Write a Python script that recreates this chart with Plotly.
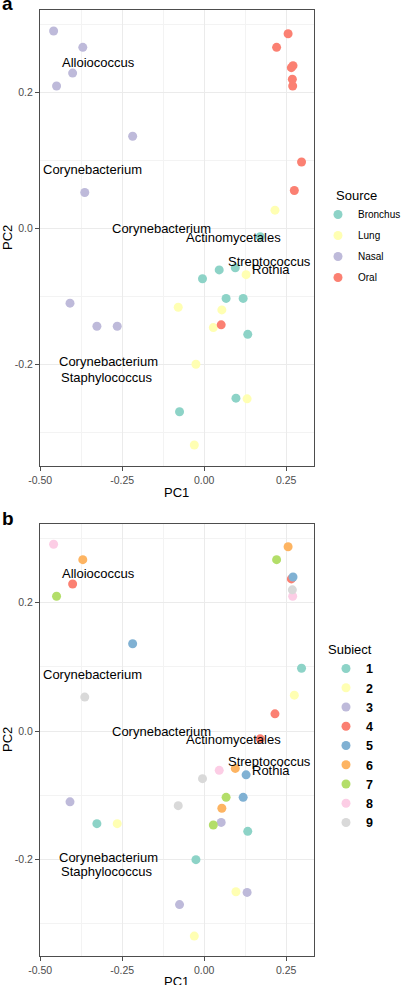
import plotly.graph_objects as go

# ---- data ----
pc1 = [-0.459, -0.370, -0.401, -0.450, -0.218, -0.364, -0.409, -0.327, -0.265,
       0.256, 0.221, 0.271, 0.266, 0.269, 0.270, 0.297, 0.275, 0.052,
       0.171, 0.046, 0.095, -0.005, 0.067, 0.119, 0.133, 0.097, -0.075,
       0.216, 0.128, -0.079, 0.054, 0.028, -0.025, 0.131, -0.030]
pc2 = [0.291, 0.267, 0.229, 0.210, 0.136, 0.053, -0.110, -0.144, -0.144,
       0.287, 0.267, 0.240, 0.237, 0.220, 0.210, 0.098, 0.056, -0.142,
       -0.012, -0.061, -0.058, -0.074, -0.103, -0.103, -0.156, -0.250, -0.270,
       0.027, -0.068, -0.116, -0.120, -0.146, -0.200, -0.251, -0.319]
source = ["Nasal"] * 9 + ["Oral"] * 9 + ["Bronchus"] * 9 + ["Lung"] * 8
subject = [8, 6, 4, 7, 5, 9, 3, 1, 2,
           6, 7, 5, 4, 9, 8, 1, 2, 3,
           4, 8, 6, 9, 7, 5, 1, 2, 3,
           4, 5, 9, 6, 7, 1, 3, 2]

source_levels = ["Bronchus", "Lung", "Nasal", "Oral"]
source_colors = ["#8DD3C7", "#FFFFB3", "#BEBADA", "#FB8072"]
subject_levels = [1, 2, 3, 4, 5, 6, 7, 8, 9]
subject_colors = ["#8DD3C7", "#FFFFB3", "#BEBADA", "#FB8072", "#80B1D3",
                  "#FDB462", "#B3DE69", "#FCCDE5", "#D9D9D9"]

label_text = ["Alloiococcus", "Corynebacterium", "Corynebacterium", "Actinomycetales",
              "Streptococcus", "Rothia", "Corynebacterium", "Staphylococcus"]
label_x = [-0.323, -0.340, -0.130, 0.091, 0.199, 0.205, -0.291, -0.297]
label_y = [0.245, 0.0875, 0.0, -0.0133, -0.048, -0.0605, -0.196, -0.219]

x_ticks = [-0.5, -0.25, 0.0, 0.25]
x_tick_text = ["-0.50", "-0.25", "0.00", "0.25"]
y_ticks = [-0.2, 0.0, 0.2]
y_tick_text = ["-0.2", "0.0", "0.2"]

# ---- figure ----
W, H = 402, 985
FONT = "Liberation Sans, Arial, Helvetica, sans-serif"
fig = go.Figure()

for lev, col in zip(source_levels, source_colors):
    xs = [a for a, s in zip(pc1, source) if s == lev]
    ys = [b for b, s in zip(pc2, source) if s == lev]
    fig.add_trace(go.Scatter(x=xs, y=ys, mode="markers", name=lev,
                             legendgroup="s" + lev, legend="legend",
                             marker=dict(color=col, size=9, line=dict(width=0)),
                             xaxis="x", yaxis="y"))

for lev, col in zip(subject_levels, subject_colors):
    xs = [a for a, s in zip(pc1, subject) if s == lev]
    ys = [b for b, s in zip(pc2, subject) if s == lev]
    fig.add_trace(go.Scatter(x=xs, y=ys, mode="markers", name="<b>%d</b>" % lev,
                             legendgroup="b%d" % lev, legend="legend2",
                             marker=dict(color=col, size=9, line=dict(width=0)),
                             xaxis="x2", yaxis="y2"))

xdom = [40 / W, 314 / W]
ydom_a = [1 - 466 / H, 1 - 10 / H]
ydom_b = [1 - 956 / H, 1 - 524.3 / H]
xrange = [-0.5005, 0.335]
yrange = [-0.35, 0.322]

grid = "#EBEBEB"
border = "#4D4D4D"
common_x = dict(range=xrange, tickvals=x_ticks, ticktext=x_tick_text, showgrid=True,
                gridcolor=grid, gridwidth=1, zeroline=False, showline=True, mirror=True,
                linecolor=border, linewidth=1, ticks="outside", ticklen=4, tickcolor=border,
                tickfont=dict(family=FONT, size=10.5, color="#4D4D4D"),
                minor=dict(tickvals=[-0.375, -0.125, 0.125], showgrid=True, gridcolor="#F3F3F3",
                           gridwidth=1, ticks=""))
common_y = dict(range=yrange, tickvals=y_ticks, ticktext=y_tick_text, showgrid=True,
                gridcolor=grid, gridwidth=1, zeroline=False, showline=True, mirror=True,
                linecolor=border, linewidth=1, ticks="outside", ticklen=4, tickcolor=border,
                tickfont=dict(family=FONT, size=10.5, color="#4D4D4D"),
                minor=dict(tickvals=[-0.3, -0.1, 0.1, 0.3], showgrid=True, gridcolor="#F3F3F3",
                           gridwidth=1, ticks=""))

fig.update_layout(
    width=W, height=H, margin=dict(l=0, r=0, t=0, b=0, autoexpand=False),
    paper_bgcolor="white", plot_bgcolor="white",
    font=dict(family=FONT, color="black"),
    xaxis=dict(domain=xdom, anchor="y", **common_x),
    yaxis=dict(domain=ydom_a, anchor="x", **common_y),
    xaxis2=dict(domain=xdom, anchor="y2", **common_x),
    yaxis2=dict(domain=ydom_b, anchor="x2", **common_y),
    legend=dict(xref="container", yref="container", x=318 / W, xanchor="left",
                y=1 - 200 / H, yanchor="top",
                font=dict(size=10, family=FONT), tracegroupgap=2,
                bgcolor="rgba(0,0,0,0)", itemwidth=30),
    legend2=dict(xref="container", yref="container", x=326 / W, xanchor="left",
                 y=1 - 637 / H, yanchor="top",
                 title=dict(text="Subiect", font=dict(size=13, family=FONT)),
                 font=dict(size=12.5, family=FONT), tracegroupgap=0,
                 bgcolor="rgba(0,0,0,0)", itemwidth=30),
    showlegend=True,
)

ann = []
for xr, yr in [("x", "y"), ("x2", "y2")]:
    for t, lx, ly in zip(label_text, label_x, label_y):
        ann.append(dict(x=lx, y=ly, xref=xr, yref=yr, text=t, showarrow=False,
                        font=dict(size=13, family=FONT, color="black"),
                        xanchor="center", yanchor="middle"))
# axis titles, legend title and panel tags
ann += [
    dict(x=334 / W, y=1 - 195 / H, xref="paper", yref="paper", text="Source", showarrow=False,
         font=dict(size=13, family=FONT), xanchor="left", yanchor="middle"),
    dict(x=176 / W, y=1 - 492 / H, xref="paper", yref="paper", text="PC1", showarrow=False,
         font=dict(size=13, family=FONT), xanchor="center", yanchor="middle"),
    dict(x=176 / W, y=1 - 981 / H, xref="paper", yref="paper", text="PC1", showarrow=False,
         font=dict(size=13, family=FONT), xanchor="center", yanchor="middle"),
    dict(x=7 / W, y=1 - 238 / H, xref="paper", yref="paper", text="PC2", showarrow=False,
         textangle=-90, font=dict(size=13, family=FONT), xanchor="center", yanchor="middle"),
    dict(x=7 / W, y=1 - 740 / H, xref="paper", yref="paper", text="PC2", showarrow=False,
         textangle=-90, font=dict(size=13, family=FONT), xanchor="center", yanchor="middle"),
    dict(x=0, y=1 - 4 / H, xref="paper", yref="paper", text="<b>a</b>", showarrow=False,
         font=dict(size=19, family=FONT), xanchor="left", yanchor="middle"),
    dict(x=0, y=1 - 518 / H, xref="paper", yref="paper", text="<b>b</b>", showarrow=False,
         font=dict(size=19, family=FONT), xanchor="left", yanchor="middle"),
]
fig.update_layout(annotations=ann)

fig.write_html("out.html", config=dict(displayModeBar=False),
               post_script="document.body.style.margin='0';document.body.style.overflow='hidden';")
